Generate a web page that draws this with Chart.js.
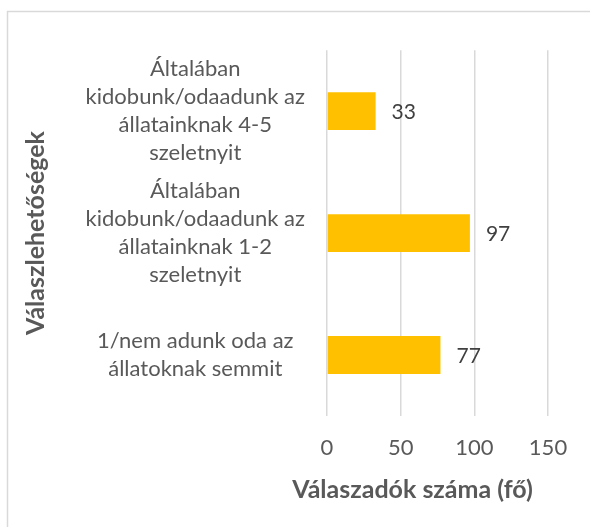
<!DOCTYPE html>
<html>
<head>
<meta charset="utf-8">
<script src="https://cdn.jsdelivr.net/npm/chart.js@4"></script>
<style>
  html, body { margin: 0; padding: 0; background: #fff; }
  #wrap { position: relative; width: 590px; height: 527px; }
</style>
</head>
<body>
<div id="wrap"><canvas id="chart"></canvas></div>
<script>
/* ── Data ─────────────────────────────────────────────── */
const CATEGORIES = [
  ['Általában', 'kidobunk/odaadunk az', 'állatainknak 4-5', 'szeletnyit'],
  ['Általában', 'kidobunk/odaadunk az', 'állatainknak 1-2', 'szeletnyit'],
  ['1/nem adunk oda az', 'állatoknak semmit'],
];
const VALUES     = [33, 97, 77];
const X_TICKS    = [0, 50, 100, 150];
const X_TITLE    = 'Válaszadók száma (fő)';
const Y_TITLE    = 'Válaszlehetőségek';

/* ── Styles ───────────────────────────────────────────── */
const FONT      = 'Lato, "Open Sans", sans-serif';
const TEXT_GRAY = '#595959';
const GRID_GRAY = '#D9D9D9';
const BAR_COLOR = '#FFC000';

// outer frame of the chart object
const framePlugin = {
  id: 'frame',
  beforeDraw(chart) {
    const ctx = chart.ctx;
    ctx.save();
    ctx.strokeStyle = GRID_GRAY;
    ctx.lineWidth = 1.5;
    ctx.strokeRect(7.5, 11.5, 800, 800);
    ctx.restore();
  },
};

// value labels at bar ends
const valueLabels = {
  id: 'valueLabels',
  afterDatasetsDraw(chart) {
    const ctx = chart.ctx;
    const meta = chart.getDatasetMeta(0);
    ctx.save();
    ctx.font = `21px ${FONT}`;
    ctx.fillStyle = '#404040';
    ctx.textAlign = 'left';
    ctx.textBaseline = 'middle';
    meta.data.forEach((bar, i) => {
      ctx.fillText(String(VALUES[i]), bar.x + 16, bar.y + 1);
    });
    ctx.restore();
  },
};

// x axis title (Excel centres it a bit left of the plot area)
const xTitlePlugin = {
  id: 'xTitle',
  afterDraw(chart) {
    const ctx = chart.ctx;
    const a = chart.chartArea;
    ctx.save();
    ctx.font = `bold 25px ${FONT}`;
    ctx.fillStyle = TEXT_GRAY;
    ctx.textAlign = 'center';
    ctx.textBaseline = 'middle';
    ctx.fillText(X_TITLE, (a.left + a.right) / 2 - 25, 490);
    ctx.restore();
  },
};

new Chart(document.getElementById('chart'), {
  type: 'bar',
  data: {
    labels: CATEGORIES,
    datasets: [{
      data: VALUES,
      backgroundColor: BAR_COLOR,
      borderWidth: 0,
      categoryPercentage: 1,
      barPercentage: 0.31,
    }],
  },
  options: {
    indexAxis: 'y',
    responsive: true,
    maintainAspectRatio: false,
    animation: false,
    layout: { padding: { left: 0, right: 42, top: 41, bottom: 0 } },
    plugins: {
      legend:  { display: false },
      tooltip: { enabled: false },
    },
    scales: {
      x: {
        min: 0,
        max: 150,
        afterBuildTicks: s => { s.ticks = X_TICKS.map(v => ({ value: v })); },
        afterFit: s => { s.height = 527 - 416; },
        ticks: { color: TEXT_GRAY, font: { family: FONT, size: 22 }, padding: 19 },
        grid:  { color: GRID_GRAY, lineWidth: 1.5, drawTicks: false },
        border: { display: false },
      },
      y: {
        afterFit: s => { s.width = 327; },
        ticks: {
          color: TEXT_GRAY,
          font: { family: FONT, size: 22, lineHeight: 1.28 },
          crossAlign: 'center',
          padding: 22,
        },
        grid:   { display: false, drawTicks: false },
        border: { display: false },
        title: {
          display: true,
          text: Y_TITLE,
          color: TEXT_GRAY,
          font: { family: FONT, size: 25, weight: 'bold' },
          padding: { top: 21 },
        },
      },
    },
  },
  plugins: [framePlugin, valueLabels, xTitlePlugin],
});
</script>
</body>
</html>
